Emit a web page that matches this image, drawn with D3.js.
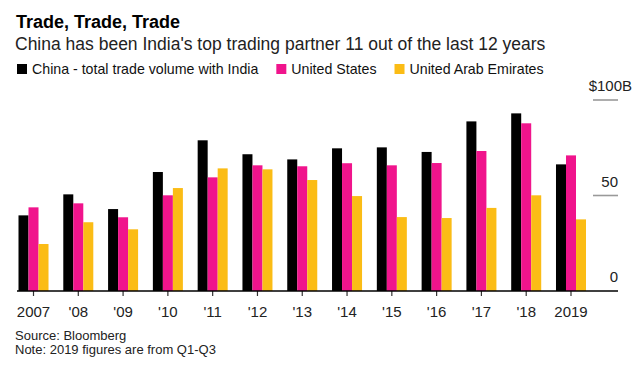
<!DOCTYPE html>
<html>
<head>
<meta charset="utf-8">
<script src="https://cdn.jsdelivr.net/npm/d3@7"></script>
<style>
  body { margin: 0; background: #fff; }
  svg { display: block; font-family: "Liberation Sans", Arial, sans-serif; }
</style>
</head>
<body>
<svg id="chart" width="644" height="368"></svg>
<script>
const years = ["2007","2008","2009","2010","2011","2012","2013","2014","2015","2016","2017","2018","2019"];
const yearLabels = ["2007","'08","'09","'10","'11","'12","'13","'14","'15","'16","'17","'18","2019"];
const seriesNames = ["China - total trade volume with India","United States","United Arab Emirates"];
const seriesColors = ["#000000","#f0148c","#fbbc15"];
const china = [39.6, 50.6, 42.9, 62.3, 78.9, 71.6, 68.9, 74.7, 75.2, 72.8, 88.8, 93.0, 66.3];
const us    = [43.8, 45.9, 38.6, 50.1, 59.5, 65.8, 65.3, 66.9, 65.8, 67.0, 73.3, 87.8, 71.0];
const uae   = [24.6, 36.0, 32.3, 53.9, 64.2, 63.7, 58.1, 49.7, 38.7, 38.2, 43.5, 50.1, 37.5];
const yTicks = [0, 50, 100];
const yTickLabels = ["0", "50", "$100B"];

const seriesValues = [china, us, uae];
const svg = d3.select("#chart");

// Header
svg.append("text").attr("x", 16).attr("y", 28)
  .attr("font-size", 18).attr("font-weight", "bold").attr("fill", "#000")
  .text("Trade, Trade, Trade");
svg.append("text").attr("x", 15).attr("y", 50)
  .attr("font-size", 17.5).attr("fill", "#222")
  .text("China has been India's top trading partner 11 out of the last 12 years");

// Legend
let lx = 17;
seriesNames.forEach((name, i) => {
  svg.append("rect").attr("x", lx).attr("y", 64).attr("width", 10).attr("height", 10)
    .attr("fill", seriesColors[i]);
  const t = svg.append("text").attr("x", lx + 15).attr("y", 74)
    .attr("font-size", 14.2).attr("fill", "#111").text(name);
  lx += 15 + t.node().getComputedTextLength() + 18;
});

// Scales
const x = d3.scaleBand().domain(years).range([18.5, 586]).paddingInner(0.33).paddingOuter(0);
const xs = d3.scaleBand().domain(d3.range(seriesNames.length)).range([0, x.bandwidth()]).padding(0);
const y = d3.scaleLinear().domain([0, 100]).range([291, 100]);

// Grid lines + y labels
yTicks.forEach((v, i) => {
  if (v > 0) {
    svg.append("line").attr("x1", 593).attr("x2", 618)
      .attr("y1", y(v)).attr("y2", y(v))
      .attr("stroke", "#999").attr("stroke-width", 1.6);
  }
  svg.append("text")
    .attr("x", v === 100 ? 632 : 618).attr("y", y(v) - 9)
    .attr("text-anchor", "end").attr("font-size", 15).attr("fill", "#222")
    .text(yTickLabels[i]);
});

// Bars
const g = svg.append("g");
years.forEach((yr, j) => {
  seriesValues.forEach((arr, i) => {
    g.append("rect")
      .attr("x", x(yr) + xs(i))
      .attr("width", xs.bandwidth())
      .attr("y", y(arr[j]))
      .attr("height", y(0) - y(arr[j]))
      .attr("fill", seriesColors[i]);
  });
});

// X axis
const xAxis = d3.axisBottom(x).tickSize(5).tickSizeOuter(0)
  .tickFormat((d, i) => yearLabels[i]);
const ax = svg.append("g").attr("transform", `translate(0,${y(0)})`).call(xAxis);
ax.select(".domain").remove();
ax.selectAll(".tick line").attr("stroke", "#333").attr("stroke-width", 1.2);
ax.selectAll(".tick text").attr("font-size", 15).attr("fill", "#222")
  .attr("y", 0).attr("dy", null).attr("transform", "translate(0,26)")
  .attr("font-family", "Liberation Sans, Arial, sans-serif");
svg.append("line").attr("x1", 17).attr("x2", 618)
  .attr("y1", y(0)).attr("y2", y(0))
  .attr("stroke", "#000").attr("stroke-width", 1.5);

// Footer
svg.append("text").attr("x", 15).attr("y", 340)
  .attr("font-size", 13).attr("fill", "#222").text("Source: Bloomberg");
svg.append("text").attr("x", 15).attr("y", 354)
  .attr("font-size", 13).attr("fill", "#222").text("Note: 2019 figures are from Q1-Q3");
</script>
</body>
</html>
